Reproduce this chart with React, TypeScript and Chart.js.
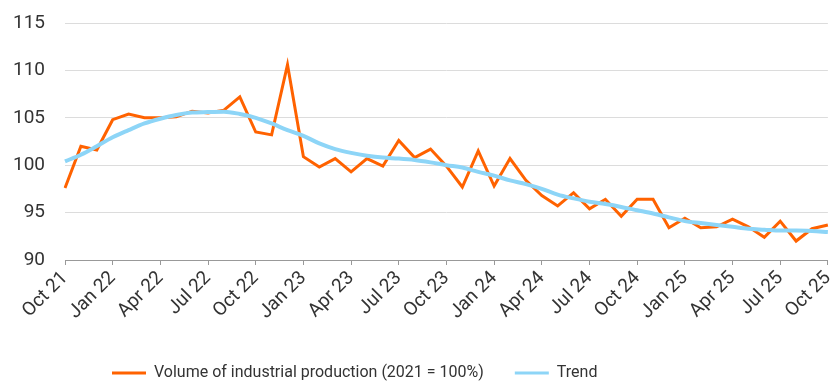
import React, { useEffect, useRef } from "react";
import { Chart, registerables } from "chart.js";

Chart.register(...registerables);

const months = [
  "Oct 21", "Nov 21", "Dec 21",
  "Jan 22", "Feb 22", "Mar 22", "Apr 22", "May 22", "Jun 22", "Jul 22", "Aug 22", "Sep 22", "Oct 22", "Nov 22", "Dec 22",
  "Jan 23", "Feb 23", "Mar 23", "Apr 23", "May 23", "Jun 23", "Jul 23", "Aug 23", "Sep 23", "Oct 23", "Nov 23", "Dec 23",
  "Jan 24", "Feb 24", "Mar 24", "Apr 24", "May 24", "Jun 24", "Jul 24", "Aug 24", "Sep 24", "Oct 24", "Nov 24", "Dec 24",
  "Jan 25", "Feb 25", "Mar 25", "Apr 25", "May 25", "Jun 25", "Jul 25", "Aug 25", "Sep 25", "Oct 25",
];

const production = [
  97.6, 102.0, 101.6,
  104.8, 105.4, 105.0, 105.0, 105.1, 105.7, 105.5, 105.8, 107.2, 103.5, 103.2, 110.6,
  100.9, 99.8, 100.7, 99.3, 100.7, 99.9, 102.6, 100.8, 101.7, 99.9, 97.7, 101.5,
  97.8, 100.7, 98.4, 96.8, 95.7, 97.1, 95.4, 96.4, 94.6, 96.4, 96.4, 93.4,
  94.4, 93.4, 93.5, 94.3, 93.5, 92.4, 94.1, 92.0, 93.3, 93.7,
];

const trend = [
  100.4, 101.1, 102.0,
  102.95, 103.7, 104.4, 104.9, 105.3, 105.55, 105.6, 105.65, 105.4, 105.0, 104.4, 103.7,
  103.1, 102.3, 101.7, 101.3, 101.0, 100.8, 100.7, 100.55, 100.3, 100.0, 99.75, 99.3,
  98.9, 98.4, 98.0, 97.5, 96.9, 96.5, 96.15, 95.9, 95.6, 95.25, 94.9, 94.5,
  94.1, 93.9, 93.7, 93.5, 93.3, 93.2, 93.1, 93.1, 93.05, 92.95,
];

const yTicks = [90, 95, 100, 105, 110, 115];

const seriesNames = ["Volume of industrial production (2021 = 100%)", "Trend"];
const ORANGE = "#FF6200";
const BLUE = "#8DD5F7";
const FONT = "Roboto";
const LEGEND_GAP = 31;
const LEGEND_START_X = 112;
const LEGEND_TOP = 334;

const legendShift = {
  id: "legendShift",
  afterLayout(chart: any) {
    const lg = chart.legend;
    if (!lg) return;
    const w = lg.right - lg.left;
    const h = lg.bottom - lg.top;
    lg.left = LEGEND_START_X - LEGEND_GAP;
    lg.right = lg.left + w;
    lg.top = LEGEND_TOP;
    lg.bottom = lg.top + h;
  },
};

export default function App() {
  const ref = useRef<HTMLCanvasElement>(null);

  useEffect(() => {
    const ctx = ref.current!.getContext("2d")!;
    const chart = new Chart(ctx, {
      type: "line",
      data: {
        labels: months,
        datasets: [
          {
            label: seriesNames[0],
            data: production,
            borderColor: ORANGE,
            backgroundColor: ORANGE,
            borderWidth: 3,
            pointRadius: 0,
            tension: 0,
            order: 1,
          },
          {
            label: seriesNames[1],
            data: trend,
            borderColor: BLUE,
            backgroundColor: BLUE,
            borderWidth: 4,
            pointRadius: 0,
            cubicInterpolationMode: "monotone",
            order: 0,
          },
        ],
      },
      plugins: [legendShift],
      options: {
        animation: false,
        responsive: false,
        maintainAspectRatio: false,
        layout: { padding: { left: 0, right: 4, top: 23, bottom: 0 } },
        plugins: {
          tooltip: { enabled: false },
          legend: {
            position: "bottom",
            align: "start",
            maxHeight: 54,
            labels: {
              font: { family: FONT, size: 16 },
              color: "#333",
              boxWidth: 34,
              boxHeight: 3,
              padding: LEGEND_GAP,
              generateLabels: (c: any) =>
                c.data.datasets.map((d: any, i: number) => ({
                  text: d.label,
                  fillStyle: d.borderColor,
                  strokeStyle: d.borderColor,
                  lineWidth: 0,
                  hidden: false,
                  datasetIndex: i,
                  fontColor: "#333",
                })),
            },
          },
        },
        scales: {
          x: {
            type: "category",
            offset: false,
            afterBuildTicks: (axis: any) => {
              axis.ticks = axis.ticks.filter((_t: any, i: number) => i % 3 === 0);
            },
            afterFit: (axis: any) => {
              axis.height = 68;
            },
            ticks: {
              autoSkip: false,
              maxRotation: 45,
              minRotation: 45,
              font: { family: FONT, size: 19 },
              color: "#333",
              padding: 2,
            },
            grid: {
              display: true,
              drawOnChartArea: false,
              drawTicks: true,
              tickLength: 5,
              color: "#999",
            },
            border: { display: true, color: "#999", width: 1 },
          },
          y: {
            min: 90,
            max: 115,
            afterBuildTicks: (axis: any) => {
              axis.ticks = yTicks.map((v) => ({ value: v }));
            },
            afterFit: (axis: any) => {
              axis.width = 65;
            },
            ticks: {
              font: { family: FONT, size: 19 },
              color: "#333",
              padding: 0,
            },
            grid: {
              color: "#dcdcdc",
              lineWidth: 1,
              drawTicks: true,
              tickLength: 20,
              tickColor: "rgba(0,0,0,0)",
            },
            border: { display: false },
          },
        },
      },
    });
    return () => chart.destroy();
  }, []);

  return (
    <div style={{ position: "fixed", left: 0, top: 0, width: 830, height: 382, overflow: "hidden", background: "#fff" }}>
      <canvas ref={ref} width={846} height={382} style={{ width: 846, height: 382, display: "block" }} />
    </div>
  );
}
